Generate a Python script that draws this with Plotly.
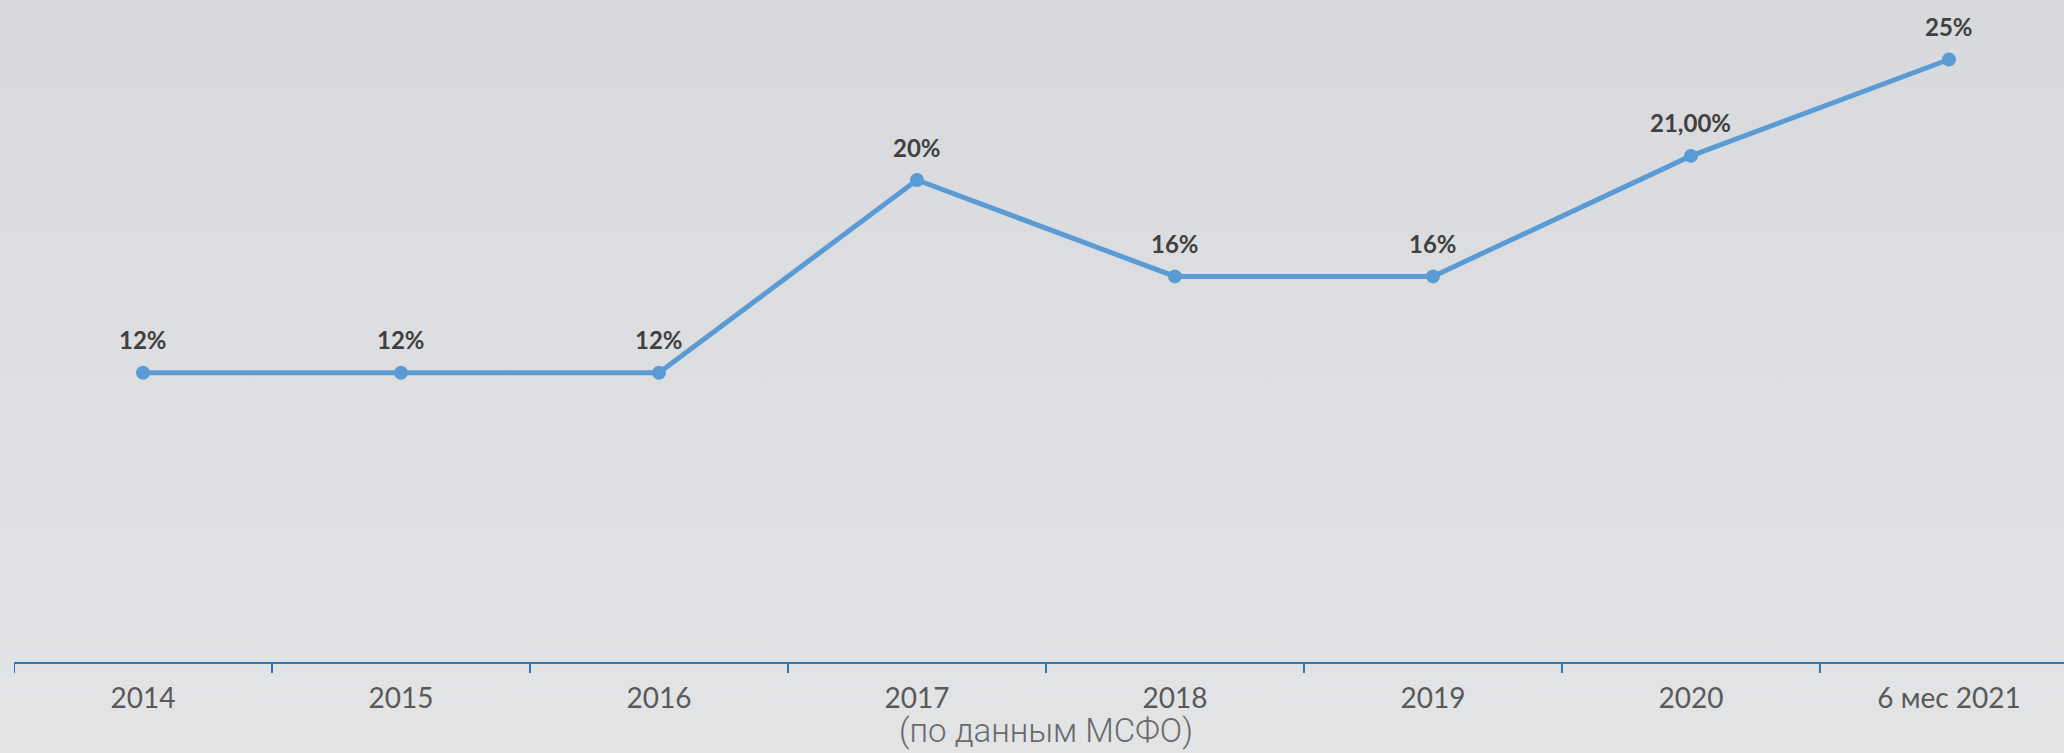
import base64
import plotly.graph_objects as go

# Period labels along the category axis
periods = ["2014", "2015", "2016", "2017", "2018", "2019", "2020", "6 мес 2021"]
# Ratio values per period
values = [0.12, 0.12, 0.12, 0.20, 0.16, 0.16, 0.21, 0.25]
# Data labels shown above each point
value_labels = ["12%", "12%", "12%", "20%", "16%", "16%", "21,00%", "25%"]
footnote = "(по данным МСФО)"

BG = "#DDDEE1"
LINE_BLUE = "#5B9BD5"
AXIS_BLUE = "#2E75B6"
LABEL_FONT = "Lato, 'Open Sans', sans-serif"

# Soft vertical background gradient
svg = (
    '<svg xmlns="http://www.w3.org/2000/svg" width="100" height="100" preserveAspectRatio="none">'
    '<defs><linearGradient id="g" x1="0" y1="0" x2="0" y2="1">'
    '<stop offset="0" stop-color="#D8D9DC"/><stop offset="1" stop-color="#E3E4E6"/>'
    '</linearGradient></defs><rect width="100" height="100" fill="url(#g)"/></svg>'
)
bg_uri = "data:image/svg+xml;base64," + base64.b64encode(svg.encode()).decode()

fig = go.Figure()

fig.add_trace(go.Scatter(
    x=list(range(len(periods))),
    y=values,
    mode="lines+markers",
    line=dict(color=LINE_BLUE, width=5),
    marker=dict(color=LINE_BLUE, size=14),
    cliponaxis=False,
    hoverinfo="skip",
))

# Value labels placed above each point
for i, (v, lab) in enumerate(zip(values, value_labels)):
    fig.add_annotation(
        x=i, y=v, xref="x", yref="y",
        text=lab, showarrow=False,
        xanchor="center", yanchor="middle",
        yshift=33,
        font=dict(family=LABEL_FONT, size=24, color="#404040", weight="bold"),
    )

fig.add_annotation(
    text=footnote,
    xref="paper", yref="paper",
    x=0.5034, y=0,
    xanchor="center", yanchor="middle",
    yshift=-68,
    showarrow=False,
    font=dict(family="Roboto, sans-serif", size=33, color="#6A6A6A", weight=300),
)

fig.update_layout(
    width=2064, height=753,
    autosize=False,
    paper_bgcolor=BG,
    plot_bgcolor="rgba(0,0,0,0)",
    margin=dict(l=14, r=0, t=0, b=91),
    showlegend=False,
    images=[dict(
        source=bg_uri, xref="paper", yref="paper",
        x=-0.01, y=1.0, sizex=1.02, sizey=1.14,
        xanchor="left", yanchor="top", sizing="stretch", layer="below",
    )],
    xaxis=dict(
        range=[-0.5, 7.446],
        tickmode="array",
        tickvals=list(range(len(periods))),
        ticktext=periods,
        showgrid=False,
        zeroline=False,
        showline=True,
        linecolor=AXIS_BLUE,
        linewidth=2,
        ticks="",
        tickfont=dict(family=LABEL_FONT, size=28, color="#595959"),
        ticklabelstandoff=10,
        fixedrange=True,
    ),
    yaxis=dict(
        range=[0, 0.2747],
        visible=False,
        fixedrange=True,
    ),
)

# Boundary tick marks between categories, drawn as short segments below the axis
for b in range(len(periods)):
    fig.add_shape(
        type="line",
        xref="x", yref="paper",
        x0=b - 0.5, x1=b - 0.5,
        y0=0, y1=-11 / 662,
        line=dict(color=AXIS_BLUE, width=2),
    )

fig.write_html("out.html")
